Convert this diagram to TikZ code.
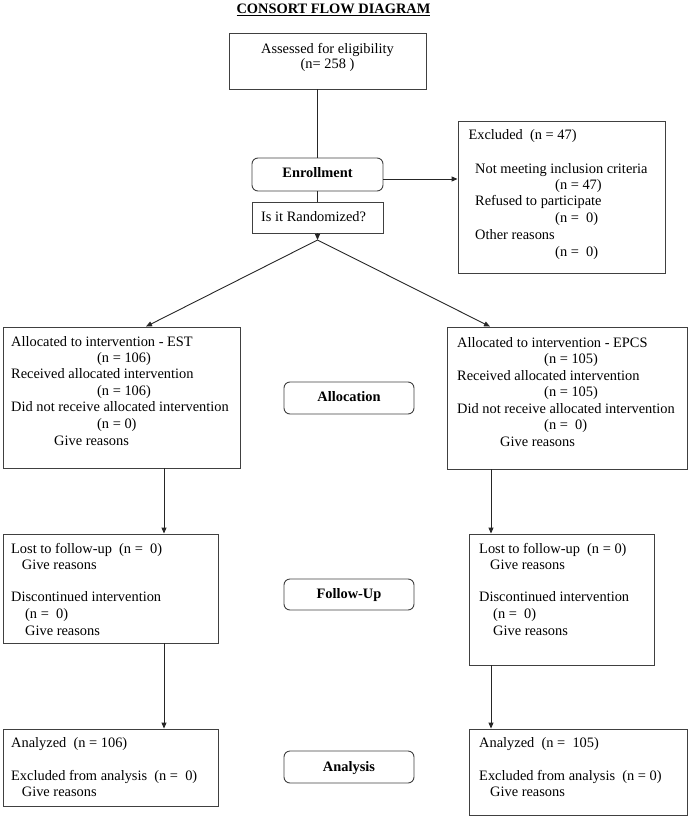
\documentclass[tikz,border=0pt]{standalone}
\usepackage{fontspec}
\setmainfont{Liberation Serif}
\usetikzlibrary{arrows.meta,fit}
\begin{document}
\begin{tikzpicture}[x=1pt,y=-1pt,
  box/.style={draw=black!75, line width=0.9pt, inner sep=0pt},
  rbox/.style={box, rounded corners=6pt},
  txt/.style={inner sep=0pt, anchor=base west, font=\fontsize{14.4}{17}\selectfont},
  ctxt/.style={txt, anchor=base},
  btxt/.style={ctxt, font=\fontsize{14.4}{17}\selectfont\bfseries},
  arr/.style={-{Triangle[length=6pt,width=5pt]}, black!85, line width=0.9pt},
  ln/.style={black!85, line width=0.9pt}]
\useasboundingbox (0,0) rectangle (689,817);

% boxes
\node[box, fit={(229,33) (426,89)}] (top) {};
\node[rbox, fit={(252,158) (383,191)}] (enr) {};
\node[box, fit={(252,202) (383,233)}] (rand) {};
\node[box, fit={(458,121) (665,273)}] (exc) {};
\node[box, fit={(3,327) (240,468)}] (alL) {};
\node[box, fit={(447,327) (687,469)}] (alR) {};
\node[rbox, fit={(284,382) (414,414)}] (alloc) {};
\node[box, fit={(3,534) (218,643)}] (fuL) {};
\node[box, fit={(469,534) (654,665)}] (fuR) {};
\node[rbox, fit={(284,579) (414,610)}] (fu) {};
\node[box, fit={(3,729) (218,806)}] (anL) {};
\node[box, fit={(469,729) (687,815)}] (anR) {};
\node[rbox, fit={(284,751) (414,783)}] (an) {};

% coordinates
\coordinate (ey) at (0,179);
\coordinate (split) at (317.5,240);
\coordinate (tL) at (146,0);
\coordinate (tR) at (490,0);
\coordinate (xL) at (164,0);
\coordinate (xR) at (491,0);

% connectors
\draw[ln] (top.south -| enr.north) -- (enr.north);
\draw[ln] (enr.south) -- (rand.north);
\draw[arr] (enr.east |- ey) -- (exc.west |- ey);
\draw[arr] (rand.south) -- (split);
\draw[arr] (split) -- (alL.north -| tL);
\draw[arr] (split) -- (alR.north -| tR);
\draw[arr] (alL.south -| xL) -- (fuL.north -| xL);
\draw[arr] (alR.south -| xR) -- (fuR.north -| xR);
\draw[arr] (fuL.south -| xL) -- (anL.north -| xL);
\draw[arr] (fuR.south -| xR) -- (anR.north -| xR);

% title
\node[btxt] (title) at (333.5,13.5) {\underline{CONSORT FLOW DIAGRAM}};

% top
\node[ctxt] (t1) at (327.5,53.3) {Assessed for eligibility};
\node[ctxt] (t2) at (327.5,68.3) {(n= 258 )};
\node[btxt] (enrt) at (317.5,177.3) {Enrollment};
\node[txt] (randt) at (261,221) {Is it Randomized?};

% excluded
\node[txt] (e1) at (468.3,139.3) {Excluded\ \ (n = 47)};
\node[txt] (e2) at (475,173.3) {Not meeting inclusion criteria};
\node[txt] (e3) at (555,189.3) {(n = 47)};
\node[txt] (e4) at (475,205.5) {Refused to participate};
\node[txt] (e5) at (555,222.3) {(n =\ \ 0)};
\node[txt] (e6) at (475,239.3) {Other reasons};
\node[txt] (e7) at (555,256) {(n =\ \ 0)};

% allocation left
\node[txt] (l1) at (11,346) {Allocated to intervention - EST};
\node[txt] (l2) at (97,362.3) {(n = 106)};
\node[txt] (l3) at (11,378.7) {Received allocated intervention};
\node[txt] (l4) at (97,395.2) {(n = 106)};
\node[txt] (l5) at (11,411.7) {Did not receive allocated intervention};
\node[txt] (l6) at (97,428.3) {(n = 0)};
\node[txt] (l7) at (54,445) {Give reasons};

% allocation right
\node[txt] (r1) at (457,347) {Allocated to intervention - EPCS};
\node[txt] (r2) at (544,363.5) {(n = 105)};
\node[txt] (r3) at (457,380) {Received allocated intervention};
\node[txt] (r4) at (544,396.5) {(n = 105)};
\node[txt] (r5) at (457,413) {Did not receive allocated intervention};
\node[txt] (r6) at (544,429.5) {(n =\ \ 0)};
\node[txt] (r7) at (500,446) {Give reasons};

% stage labels
\node[btxt] (allocT) at (349,401.7) {Allocation};
\node[btxt] (fuT) at (349,598.3) {Follow-Up};
\node[btxt] (anT) at (349,771.7) {Analysis};

% follow-up left
\node[txt] (fl1) at (11,553.3) {Lost to follow-up\ \ (n =\ \ 0)};
\node[txt] (fl2) at (21.7,569.5) {Give reasons};
\node[txt] (fl3) at (11,601.7) {Discontinued intervention};
\node[txt] (fl4) at (25,618.3) {(n =\ \ 0)};
\node[txt] (fl5) at (25,635) {Give reasons};

% follow-up right
\node[txt] (fr1) at (479,553.3) {Lost to follow-up\ \ (n = 0)};
\node[txt] (fr2) at (490,569.5) {Give reasons};
\node[txt] (fr3) at (479,601.7) {Discontinued intervention};
\node[txt] (fr4) at (493,618.3) {(n =\ \ 0)};
\node[txt] (fr5) at (493,635) {Give reasons};

% analysis left
\node[txt] (al1) at (11,747.3) {Analyzed\ \ (n = 106)};
\node[txt] (al2) at (11,780.7) {Excluded from analysis\ \ (n =\ \ 0)};
\node[txt] (al3) at (21.7,796.7) {Give reasons};

% analysis right
\node[txt] (ar1) at (479,747.3) {Analyzed\ \ (n =\ \ 105)};
\node[txt] (ar2) at (479,780.7) {Excluded from analysis\ \ (n = 0)};
\node[txt] (ar3) at (490,796.7) {Give reasons};
\end{tikzpicture}
\end{document}
